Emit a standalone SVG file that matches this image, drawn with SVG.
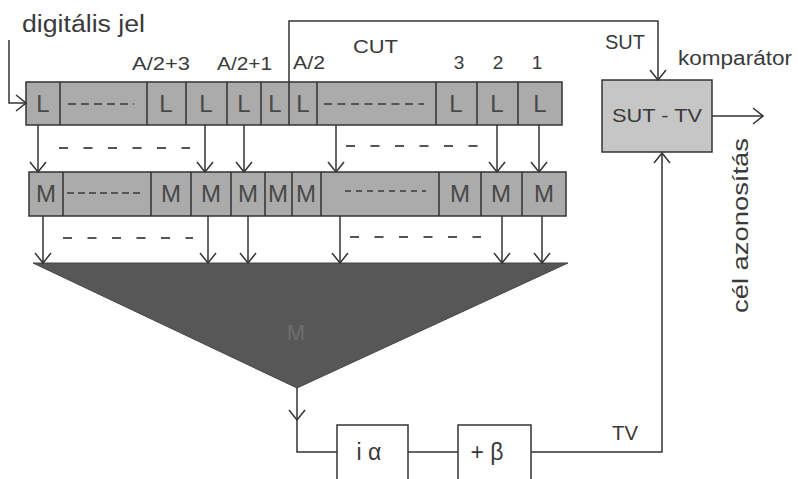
<svg xmlns="http://www.w3.org/2000/svg" width="798" height="479" viewBox="0 0 798 479">
<style>
text{font-family:"Liberation Sans",Arial,sans-serif;fill:#3a3a3a}
.cell{fill:#ababab;stroke:#333;stroke-width:1.5}
.box{fill:#fff;stroke:#333;stroke-width:1.5}
.lbl{font-size:24px;text-anchor:middle;fill:#484848}
.w{fill:none;stroke:#333;stroke-width:1.5}
.d{fill:none;stroke:#555;stroke-width:2}
</style>
<defs>
<marker id="a" viewBox="-11 -9 12 18" markerWidth="12" markerHeight="18" refX="0" refY="0" orient="auto" markerUnits="userSpaceOnUse">
<path d="M-10,-8 L0,0 L-10,8" fill="none" stroke="#333" stroke-width="1.5"/>
</marker>
</defs>
<rect width="798" height="479" fill="#fff"/>

<g id="labels">
<text x="22" y="32" font-size="23" textLength="123" lengthAdjust="spacingAndGlyphs">digitális jel</text>
<text x="132" y="70" font-size="19" textLength="58" lengthAdjust="spacingAndGlyphs">A/2+3</text>
<text x="217" y="70" font-size="19" textLength="55" lengthAdjust="spacingAndGlyphs">A/2+1</text>
<text x="293" y="69" font-size="19" textLength="32" lengthAdjust="spacingAndGlyphs">A/2</text>
<text x="353" y="53" font-size="19" textLength="45" lengthAdjust="spacingAndGlyphs">CUT</text>
<text x="459" y="69" font-size="19" text-anchor="middle">3</text>
<text x="498" y="69" font-size="19" text-anchor="middle">2</text>
<text x="537" y="69" font-size="19" text-anchor="middle">1</text>
<text x="605" y="49" font-size="21" textLength="40" lengthAdjust="spacingAndGlyphs">SUT</text>
<text x="678" y="65" font-size="20" textLength="114" lengthAdjust="spacingAndGlyphs">komparátor</text>
<text x="612" y="440" font-size="20" textLength="26" lengthAdjust="spacingAndGlyphs">TV</text>
<text transform="translate(748,313) rotate(-90)" font-size="22" textLength="175" lengthAdjust="spacingAndGlyphs">cél azonosítás</text>
</g>

<g id="L-row">
<rect class="cell" x="26" y="82" width="536" height="43"/>
<path class="w" d="M60,82V125M147,82V125M186,82V125M227,82V125M261,82V125M289,82V125M317,82V125M436,82V125M477,82V125M518,82V125"/>
<text class="lbl" x="43" y="112">L</text>
<text class="lbl" x="166" y="112">L</text>
<text class="lbl" x="206" y="112">L</text>
<text class="lbl" x="244" y="112">L</text>
<text class="lbl" x="275" y="112">L</text>
<text class="lbl" x="303" y="112">L</text>
<text class="lbl" x="456" y="112">L</text>
<text class="lbl" x="497" y="112">L</text>
<text class="lbl" x="540" y="112">L</text>
<path class="d" d="M68,104H134" stroke-dasharray="8 5"/>
<path class="d" d="M324,104H424" stroke-dasharray="8 5.5"/>
</g>

<g id="M-row">
<rect class="cell" x="29" y="172" width="537" height="44"/>
<path class="w" d="M63,172V216M151,172V216M191,172V216M231,172V216M265,172V216M292,172V216M321,172V216M439,172V216M481,172V216M522,172V216"/>
<text class="lbl" x="46" y="202">M</text>
<text class="lbl" x="171" y="202">M</text>
<text class="lbl" x="211" y="202">M</text>
<text class="lbl" x="248" y="202">M</text>
<text class="lbl" x="278" y="202">M</text>
<text class="lbl" x="306" y="202">M</text>
<text class="lbl" x="460" y="202">M</text>
<text class="lbl" x="501" y="202">M</text>
<text class="lbl" x="544" y="202">M</text>
<path class="d" d="M67,193H144" stroke-dasharray="7 4"/>
<path class="d" d="M345,191H426" stroke-dasharray="6 5"/>
</g>

<g id="sum">
<polygon points="33,263 568,263 297,388" fill="#575757" stroke="#444" stroke-width="1"/>
<text x="296" y="340" font-size="22" text-anchor="middle" style="fill:#6e6e6e">M</text>
</g>

<g id="comparator">
<rect x="602" y="80" width="110" height="72" fill="#c6c6c6" stroke="#333" stroke-width="1.5"/>
<text x="657" y="122" font-size="19" text-anchor="middle" textLength="90" lengthAdjust="spacingAndGlyphs">SUT - TV</text>
</g>

<g id="ialpha">
<rect class="box" x="337" y="425" width="71" height="56"/>
<text x="369" y="460" font-size="23" text-anchor="middle">i α</text>
</g>

<g id="beta">
<rect class="box" x="458" y="425" width="73" height="56"/>
<text x="487" y="460" font-size="23" text-anchor="middle">+ β</text>
</g>

<g id="connectors">
<path class="w" d="M9,40V103H26" marker-end="url(#a)"/>
<path class="w" d="M289,82V21H658V80" marker-end="url(#a)"/>
<path class="w" d="M712,116H763" marker-end="url(#a)"/>
<path class="w" d="M38,125V172" marker-end="url(#a)"/>
<path class="w" d="M205,125V172" marker-end="url(#a)"/>
<path class="w" d="M244,125V172" marker-end="url(#a)"/>
<path class="w" d="M336,125V172" marker-end="url(#a)"/>
<path class="w" d="M497,125V172" marker-end="url(#a)"/>
<path class="w" d="M539,125V172" marker-end="url(#a)"/>
<path class="w" d="M43,216V263" marker-end="url(#a)"/>
<path class="w" d="M208,216V263" marker-end="url(#a)"/>
<path class="w" d="M248,216V263" marker-end="url(#a)"/>
<path class="w" d="M340,216V263" marker-end="url(#a)"/>
<path class="w" d="M502,216V263" marker-end="url(#a)"/>
<path class="w" d="M542,216V263" marker-end="url(#a)"/>
<path class="d" d="M59,148H190" stroke-dasharray="9 15.5"/>
<path class="d" d="M346,146H478" stroke-dasharray="9 15.5"/>
<path class="d" d="M63,238H193" stroke-dasharray="9 15.5"/>
<path class="d" d="M350,237H481" stroke-dasharray="9 15.5"/>
<path class="w" d="M297,388V420" marker-end="url(#a)"/>
<path class="w" d="M297,420V452H337"/>
<path class="w" d="M408,452H458"/>
<path class="w" d="M531,452H662V153" marker-end="url(#a)"/>
</g>
</svg>
